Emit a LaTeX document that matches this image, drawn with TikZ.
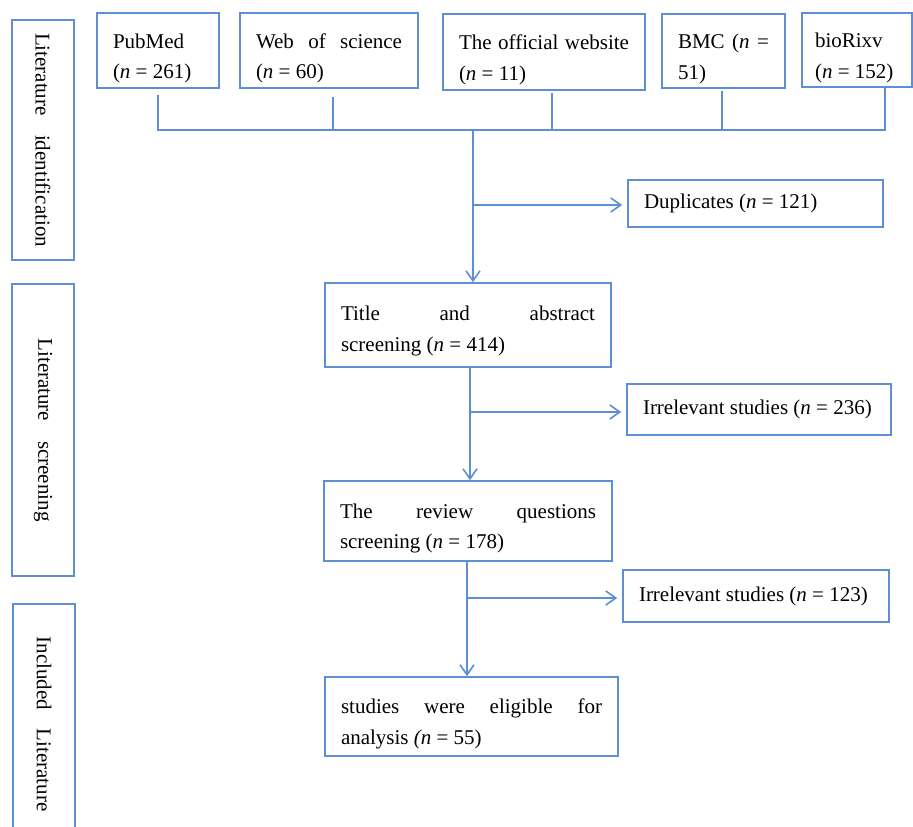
\documentclass[tikz,border=0pt]{standalone}
\usepackage{fontspec}
\setmainfont{Liberation Serif}
\usetikzlibrary{arrows.meta,calc}
\definecolor{lineblue}{RGB}{94,142,212}
\tikzset{
  box/.style={draw=lineblue, line width=1.6pt, inner xsep=16pt, inner ysep=0pt, align=left,
    font=\fontsize{21}{30.5}\selectfont, text=black,
    execute at begin node={\spaceskip=0pt\xspaceskip=0pt}},
  sidebox/.style={draw=lineblue, line width=1.6pt, inner sep=0pt, rotate=-90,
    font=\fontsize{21}{26}\selectfont, text=black},
  conn/.style={draw=lineblue, line width=1.7pt},
  arr/.style={conn, -{Straight Barb[length=10pt,width=14pt,line width=1.6pt]}},
}
\newcommand{\nn}{\textit{n}}
\newcommand{\dn}{\rule{0pt}{30pt}}
\begin{document}
\begin{tikzpicture}[x=1pt,y=-1pt]
\useasboundingbox (0,0) rectangle (913,827);
% side boxes
\node[sidebox, minimum width=240pt, minimum height=62pt] (s1) at (43,140) {\makebox[214pt][s]{Literature identification}};
\node[sidebox, minimum width=292pt, minimum height=62pt] (s2) at (43,430) {\makebox[183pt][s]{Literature screening}};
\node[sidebox, minimum width=240pt, minimum height=62pt] (s3) at (44,724) {\makebox[175pt][s]{Included Literature}};
% top boxes
\node[box, minimum width=122pt, minimum height=75pt, text width=90pt] (pub) at (158,50.5) {\dn PubMed\\(\nn{} = 261)};
\node[box, minimum width=178pt, minimum height=75pt, text width=146pt] (wos) at (329,50.5) {\dn Web\hfill of\hfill science\\(\nn{} = 60)};
\node[box, minimum width=202pt, minimum height=76pt, text width=170pt] (off) at (544,52) {\dn The\hfill official\hfill website\\(\nn{} = 11)};
\node[box, minimum width=123pt, minimum height=74pt, text width=91pt] (bmc) at (723.5,51) {\dn BMC\hfill (\nn{}\hfill =\\51)};
\node[box, minimum width=110pt, minimum height=74pt, text width=84pt, inner xsep=13pt] (bio) at (857,50) {\dn bioRixv\\(\nn{} = 152)};
% flow boxes
\node[box, minimum width=255pt, minimum height=47pt, text width=223pt] (dup) at (755.5,203.5) {Duplicates (\nn{} = 121)};
\node[box, minimum width=286pt, minimum height=84pt, text width=254pt] (title) at (468,325) {\rule{0pt}{27pt}Title\hfill and\hfill abstract\\screening (\nn{} = 414)};
\node[box, minimum width=264pt, minimum height=51pt, text width=232pt] (irr1) at (759,409.5) {Irrelevant studies (\nn{} = 236)};
\node[box, minimum width=288pt, minimum height=80pt, text width=256pt] (rev) at (468,521) {\dn The\hfill review\hfill questions\\screening (\nn{} = 178)};
\node[box, minimum width=266pt, minimum height=52pt, text width=234pt] (irr2) at (756,596) {Irrelevant studies (\nn{} = 123)};
\node[box, minimum width=293pt, minimum height=79pt, text width=261pt] (fin) at (471.5,716.5) {\dn studies\hfill were\hfill eligible\hfill for\\analysis \textit{(n} = 55)};
% connectors from sources
\coordinate (j) at (473,130);
\coordinate (pubx) at ([yshift=-6pt]pub.south);
\coordinate (wosx) at ([xshift=4pt,yshift=-8pt]wos.south);
\coordinate (offx) at ([xshift=8pt,yshift=-2pt]off.south);
\coordinate (bmcx) at ([xshift=-1.5pt,yshift=-2pt]bmc.south);
\coordinate (biox) at ($(bio.south)!0.5!(bio.south east)$);
\draw[conn] (pubx) -- (pubx |- j) -- (biox |- j) -- (biox);
\draw[conn] (wosx) -- (wosx |- j);
\draw[conn] (offx) -- (offx |- j);
\draw[conn] (bmcx) -- (bmcx |- j);
% main flow
\coordinate (dupw) at ([yshift=-1.5pt]dup.west);
\coordinate (irr1w) at ([yshift=-2.5pt]irr1.west);
\coordinate (irr2w) at ([yshift=-2pt]irr2.west);
\draw[arr] (j) -- (j |- title.north);
\draw[arr, shorten >=5pt] (j |- dupw) -- (dupw);
\coordinate (t2) at ([xshift=2pt]title.south);
\draw[arr] (t2) -- (t2 |- rev.north);
\draw[arr, shorten >=5pt] (t2 |- irr1w) -- (irr1w);
\coordinate (r2) at ([xshift=-1pt]rev.south);
\draw[arr] (r2) -- (r2 |- fin.north);
\draw[arr, shorten >=5pt] (r2 |- irr2w) -- (irr2w);
\end{tikzpicture}
\end{document}
